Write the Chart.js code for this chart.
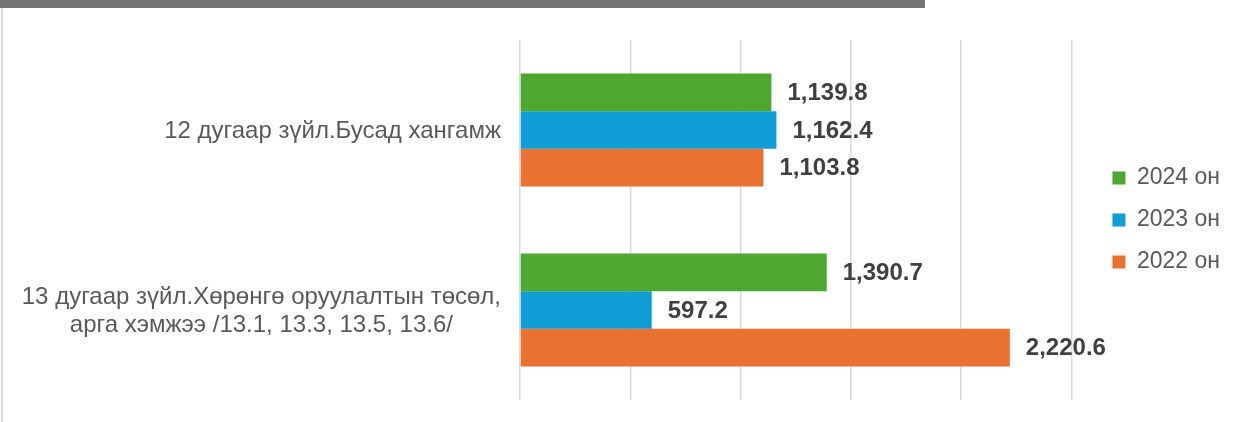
<!DOCTYPE html>
<html>
<head>
<meta charset="utf-8">
<script src="https://cdn.jsdelivr.net/npm/chart.js@4.4.1/dist/chart.umd.min.js"></script>
<style>
  html, body { margin: 0; padding: 0; background: #fff; }
  #wrap { position: relative; width: 1246px; height: 422px; overflow: hidden; }
  #topBar { position: absolute; left: 0; top: 0; width: 925px; height: 8px; background: #737373; }
  #leftLine { position: absolute; left: 1px; top: 8px; width: 2px; height: 414px; background: #d9d9d9; }
  #chartBar { position: absolute; left: 0; top: 0; }
</style>
</head>
<body>
<div id="wrap">
  <canvas id="chartBar" width="1246" height="422"></canvas>
  <div id="topBar"></div>
  <div id="leftLine"></div>
</div>
<script>
var categories = [
    ["12 дугаар зүйл.Бусад хангамж"],
    ["13 дугаар зүйл.Хөрөнгө оруулалтын төсөл,", "арга хэмжээ /13.1, 13.3, 13.5, 13.6/"]
];
var seriesNames = ["2024 он", "2023 он", "2022 он"];
var values2024 = [1139.8, 1390.7];
var values2023 = [1162.4, 597.2];
var values2022 = [1103.8, 2220.6];
var xTicks = [0, 500, 1000, 1500, 2000, 2500];

var fontFamily = "'Liberation Sans', Arial, sans-serif";

// подписи категорий: строки по центру блока, блок прижат вправо
var categoryLabels = {
    id: 'categoryLabels',
    afterDraw: function (chart) {
        var ctx = chart.ctx;
        var yScale = chart.scales.y;
        var right = chart.chartArea.left - 19;
        ctx.save();
        ctx.font = "24px " + fontFamily;
        ctx.fillStyle = "#595959";
        ctx.textAlign = "center";
        ctx.textBaseline = "middle";
        categories.forEach(function (lines, i) {
            var w = 0;
            lines.forEach(function (l) { w = Math.max(w, ctx.measureText(l).width); });
            var cx = right - w / 2;
            var cy = yScale.getPixelForTick(i) + 1;
            var lh = 28;
            lines.forEach(function (l, j) {
                ctx.fillText(l, cx, cy + (j - (lines.length - 1) / 2) * lh);
            });
        });
        ctx.restore();
    }
};

// значения справа от столбцов
var valueLabels = {
    id: 'valueLabels',
    afterDatasetsDraw: function (chart) {
        var ctx = chart.ctx;
        ctx.save();
        ctx.font = "bold 24px " + fontFamily;
        ctx.fillStyle = "#404040";
        ctx.textAlign = "left";
        ctx.textBaseline = "middle";
        chart.data.datasets.forEach(function (ds, di) {
            chart.getDatasetMeta(di).data.forEach(function (bar, i) {
                var txt = ds.data[i].toLocaleString('en-US', { minimumFractionDigits: 1, maximumFractionDigits: 1 });
                ctx.fillText(txt, bar.x + 16, bar.y + 1);
            });
        });
        ctx.restore();
    }
};

var barChart = new Chart(document.getElementById("chartBar"), {
    type: 'bar',
    data: {
        labels: categories,
        datasets: [
            {
                label: seriesNames[0],
                data: values2024,
                backgroundColor: '#4EA72E'
            },
            {
                label: seriesNames[1],
                data: values2023,
                backgroundColor: '#0F9ED5'
            },
            {
                label: seriesNames[2],
                data: values2022,
                backgroundColor: '#E97132'
            }
        ]
    },
    options: {
        indexAxis: 'y',
        responsive: false,
        animation: false,
        categoryPercentage: 0.627,
        barPercentage: 1.0,
        layout: {
            padding: { top: 40, bottom: 22, left: 0, right: 16 }
        },
        scales: {
            x: {
                min: xTicks[0],
                max: xTicks[xTicks.length - 1],
                afterBuildTicks: function (scale) {
                    scale.ticks = xTicks.map(function (v) { return { value: v }; });
                },
                ticks: { display: false },
                grid: { color: '#d9d9d9', lineWidth: 1.5, drawTicks: false },
                border: { display: false },
                afterFit: function (scale) { scale.height = 0; }
            },
            y: {
                ticks: { display: false },
                grid: { display: false, drawTicks: false },
                border: { display: false },
                afterFit: function (scale) { scale.width = 520; }
            },
            y2: {
                type: 'category',
                position: 'right',
                labels: ['', ''],
                ticks: { display: false },
                grid: { display: false, drawTicks: false },
                border: { display: false },
                afterFit: function (scale) { scale.width = 22; }
            }
        },
        plugins: {
            legend: {
                display: true,
                position: "right",
                labels: {
                    boxWidth: 13,
                    boxHeight: 13,
                    padding: 19,
                    color: "#595959",
                    font: { size: 23, family: fontFamily }
                }
            },
            tooltip: { enabled: false },
            title: { display: false }
        }
    },
    plugins: [categoryLabels, valueLabels]
});
</script>
</body>
</html>
